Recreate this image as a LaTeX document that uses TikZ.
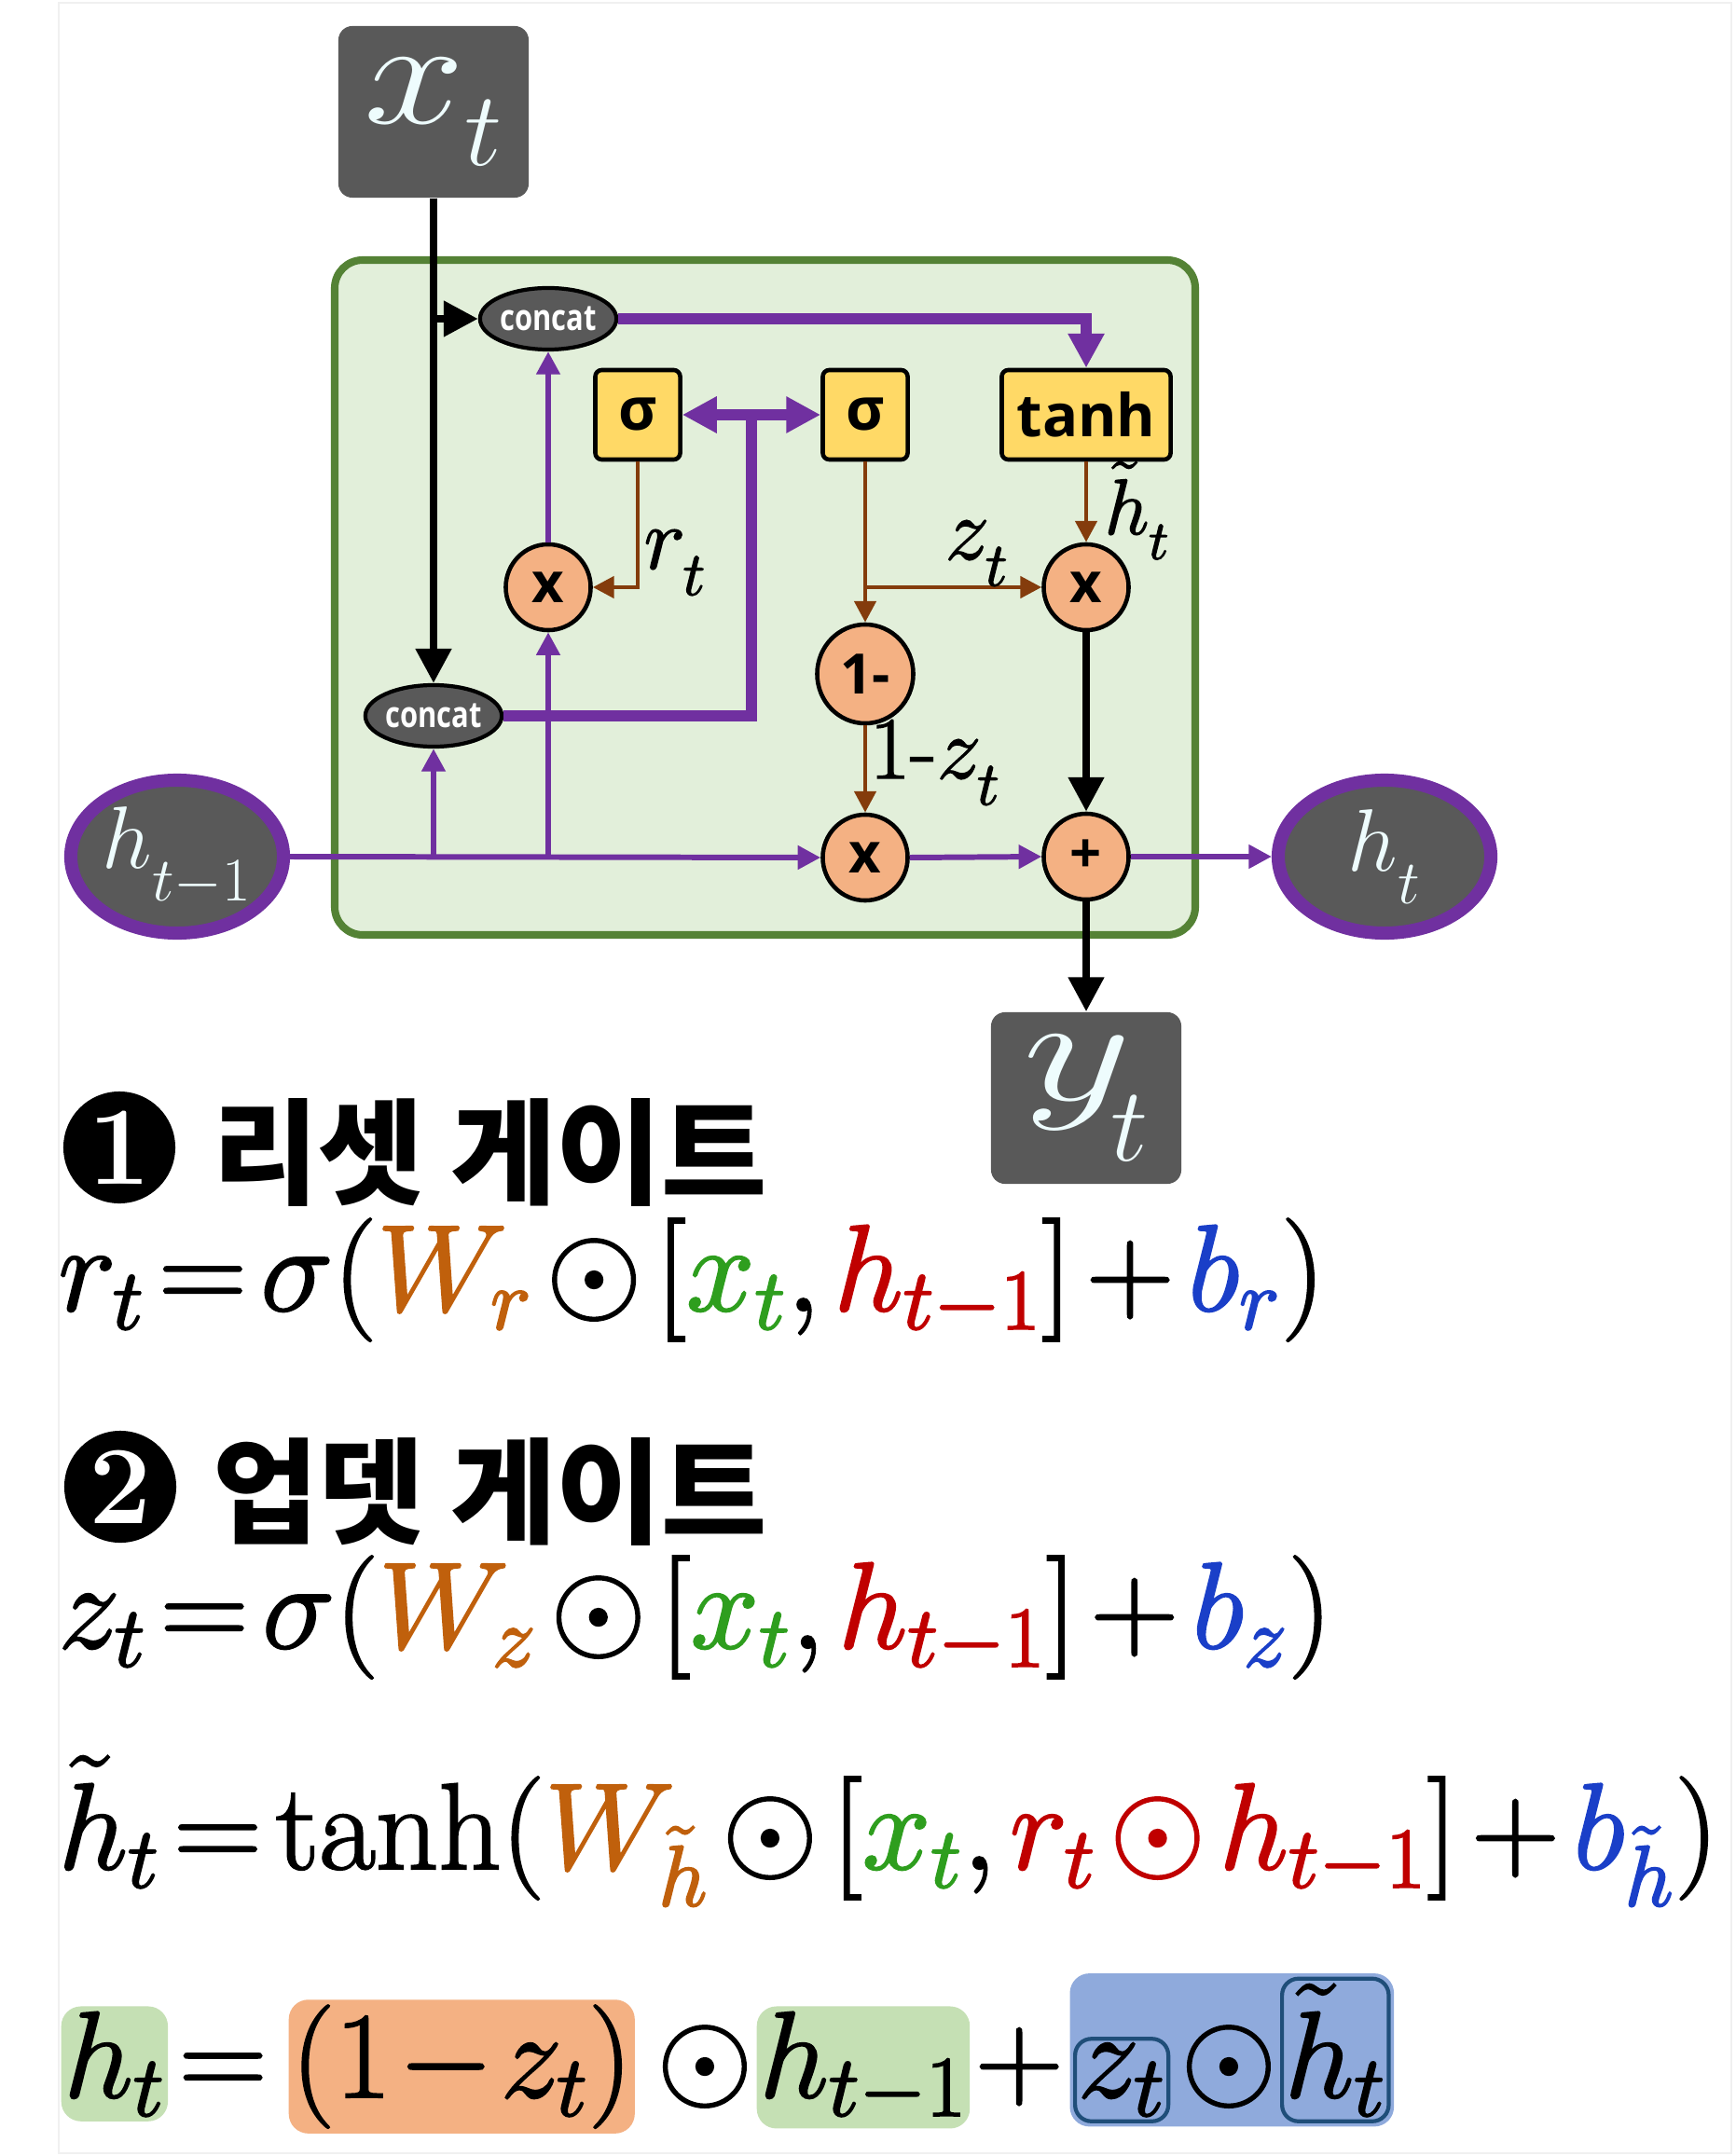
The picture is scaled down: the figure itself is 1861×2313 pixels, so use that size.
\RequirePackage{fix-cm}
\documentclass[tikz,border=0pt]{standalone}
\usepackage{fontspec}
\usetikzlibrary{arrows.meta,shapes.geometric,fit,backgrounds,calc}
\newfontfamily\osans{Open Sans}
\newfontfamily\kor{Noto Sans CJK KR}
\definecolor{purp}{HTML}{7030A0}
\definecolor{brwn}{HTML}{843C0C}
\definecolor{gbord}{HTML}{548235}
\definecolor{gfill}{HTML}{E2EFDA}
\definecolor{ygold}{HTML}{FFD966}
\definecolor{ora}{HTML}{F4B183}
\definecolor{dgray}{HTML}{595959}
\definecolor{lwhite}{HTML}{EEFCFD}
\definecolor{grn4}{HTML}{C5E0B4}
\definecolor{blu4}{HTML}{8FAADC}
\definecolor{dblu}{HTML}{1F4E79}
\definecolor{wcol}{HTML}{C0600C}
\definecolor{xcol}{HTML}{2E9E1E}
\definecolor{hcol}{HTML}{C00000}
\definecolor{bcol}{HTML}{1A3FC8}
\newcommand\lowsub[2][4pt]{_{\raisebox{-#1}{$\scriptstyle #2$}}}
\newcommand\fb[2][0.6]{\special{pdf:literal direct 2 Tr #1 w}#2\special{pdf:literal direct 0 Tr 0.3985 w}}
\newcommand\eqsetup{\fontsize{37.5}{40}\selectfont\thickmuskip=2mu\medmuskip=2mu\thinmuskip=2mu}
\begin{document}
\begin{tikzpicture}[x=0.01cm,y=-0.01cm,
  dbox/.style={fill=dgray, rounded corners=0.15cm, minimum width=2.04cm, minimum height=1.84cm, text=lwhite, inner sep=0, font=\fontsize{46}{46}\selectfont},
  hell/.style={ellipse, draw=purp, line width=4pt, fill=dgray, minimum width=2.28cm, minimum height=1.64cm, inner sep=0, text=lwhite, font=\fontsize{27}{27}\selectfont},
  cc/.style={ellipse, draw=black, line width=1.2pt, fill=dgray, minimum width=1.27cm, minimum height=0.66cm, inner sep=0, text=white, font=\osans\bfseries\fontsize{11}{11}\selectfont},
  gate/.style={draw=black, line width=1.3pt, fill=ygold, rounded corners=2pt, minimum height=0.96cm, inner sep=0, font=\osans\bfseries\fontsize{18}{18}\selectfont},
  op/.style={ellipse, draw=black, line width=1.3pt, fill=ora, minimum width=0.91cm, minimum height=0.92cm, inner sep=0, font=\osans\bfseries\fontsize{17}{17}\selectfont},
  blk/.style={draw=black, line width=2.3pt, -{Triangle[length=10.5pt,width=10.5pt]}},
  pthick/.style={draw=purp, line width=3.4pt, -{Triangle[length=10.5pt,width=10.5pt]}},
  pthin/.style={draw=purp, line width=1.7pt, -{Triangle[length=7pt,width=7pt]}},
  brn/.style={draw=brwn, line width=1.4pt, -{Triangle[length=6.5pt,width=6.5pt]}},
  lab/.style={anchor=base west, inner sep=0, font=\fontsize{27}{27}\selectfont},
  head/.style={anchor=west, inner sep=0, font=\kor\bfseries\fontsize{35}{35}\selectfont},
  num/.style={circle, fill=black, minimum size=1.2cm, inner sep=0, text=white, font=\bfseries\fontsize{34}{34}\selectfont},
  eqn/.style={anchor=base west, inner sep=0, font=\eqsetup},
  e4/.style={anchor=base west, inner ysep=1.7pt, inner xsep=0.8pt, font=\eqsetup, rounded corners=6pt},
  e4b/.style={anchor=base west, inner ysep=1.7pt, inner xsep=0.8pt, font=\eqsetup, rounded corners=5pt, draw=dblu, line width=1.2pt}
]
\begin{scope}[on background layer]
\fill[white] (0,0) rectangle (1861,2313);
\end{scope}
\useasboundingbox (0,0) rectangle (1861,2313);
\draw[gray!12, line width=0.8pt] (63,3) rectangle (1857,2310);

% cell
\draw[gbord, fill=gfill, line width=2.3pt, rounded corners=0.3cm] (359,279) rectangle (1282,1003);

% nodes
\node[dbox] (xt) at (465,120) {$\scalebox{1.2}[1]{$x$}\lowsub[6pt]{t}$};
\node[dbox] (yt) at (1165,1178) {$\scalebox{1.4}[1]{$y$}\lowsub[8pt]{\mkern-3.5mu t}$};
\node[hell] (hp) at (190,919) {$h\lowsub[6pt]{t-1}$};
\node[hell] (ht) at (1485,919) {$h\lowsub[6pt]{t}$};
\node[cc] (tc) at (588,342) {\scalebox{0.8}[1]{concat}};
\node[cc] (bc) at (465,768) {\scalebox{0.8}[1]{concat}};
\node[gate, minimum width=0.91cm] (s1) at (684,445) {σ};
\node[gate, minimum width=0.91cm] (s2) at (928,445) {σ};
\node[gate, minimum width=1.81cm] (th) at (1165,445) {tanh};
\node[op] (m1) at (588,630) {x};
\node[op] (m2) at (1165,630) {x};
\node[op, minimum width=1.03cm, minimum height=1.06cm] (om) at (928,723) {1-};
\node[op] (m3) at (928,920) {x};
\node[op] (pl) at (1165,919) {+};

% connectors
\draw[blk] (xt.south) -- (bc.north);
\draw[blk] (xt.south |- tc.west) -- (tc.west);
\draw[pthick] (tc.east) -| (th.north);
\coordinate (sp) at ($(s1.east)!0.5!(s2.west)$);
\draw[purp, line width=3.4pt] (bc.east) -| (sp);
\draw[purp, line width=3.4pt, {Triangle[length=10.5pt,width=10.5pt]}-{Triangle[length=10.5pt,width=10.5pt]}] (s1.east) -- (s2.west);
\draw[brn] (s1.south) |- (m1.east);
\draw[pthin] (m1.north) -- (tc.south);
\draw[pthin] (m1.south |- hp.east) -- (m1.south);
\draw[pthin] (bc.south |- hp.east) -- (bc.south);
\draw[brn] (s2.south) -- (om.north);
\draw[brn] (s2.south |- m2.west) -- (m2.west);
\draw[brn] (th.south) -- (m2.north);
\draw[blk] (m2.south) -- (pl.north);
\draw[brn] (om.south) -- (m3.north);
\draw[pthin] (hp.east) -- (m3.west);
\draw[pthin] (m3.east) -- (pl.west);
\draw[pthin] (pl.east) -- (ht.west);
\draw[blk] (pl.south) -- (yt.north);

% labels
\node[lab] (lr) at (690,610) {\fb[0.4]{$r\lowsub{t}$}};
\node[lab] (lz) at (1013,600) {\fb[0.4]{$z\lowsub{t}$}};
\node[lab, font=\fontsize{24}{24}\selectfont] (lh) at (1184,573) {\fb[0.4]{$\tilde h\lowsub{t}$}};
\node[lab] (l1z) at (932,835) {\fb[0.4]{$1\mbox{-}z\lowsub{t}$}};

% headings
\node[num] (c1) at (128,1231) {1};
\node[head] (t1) at (228,1236) {리셋 게이트};
\node[num] (c2) at (129,1595) {2};
\node[head] (t2) at (228,1600) {업뎃 게이트};

% equations
\node[eqn] (eq1) at (62,1406) {\fb{$r_t=\sigma(\textcolor{wcol}{W_r}\odot[\textcolor{xcol}{x_t},\textcolor{hcol}{h_{t-1}}]+\textcolor{bcol}{b_r})$}};
\node[eqn] (eq2) at (62,1768) {\fb{$z_t=\sigma(\textcolor{wcol}{W_z}\odot[\textcolor{xcol}{x_t},\textcolor{hcol}{h_{t-1}}]+\textcolor{bcol}{b_z})$}};
\node[eqn] (eq3) at (62,2005) {\fb{$\tilde h_t=\tanh(\textcolor{wcol}{W_{\tilde h}}\odot[\textcolor{xcol}{x_t},\textcolor{hcol}{r_t\odot h_{t-1}}]+\textcolor{bcol}{b_{\tilde h}})$}};

\node[e4, fill=grn4] (a4) at (65,2250) {\fb{$h_t$}};
\node[eqn] (q4) at (191,2250) {\fb{$=$}};
\node[e4, fill=ora] (o4) at (309,2250) {\fb{$\medmuskip=1mu(1-z_t)$}};
\node[eqn] (d4) at (704,2250) {\fb{$\odot$}};
\node[e4, fill=grn4] (g4) at (811,2250) {\fb{$h_{t-1}$}};
\node[eqn] (p4) at (1045,2250) {\fb{$+$}};
\node[e4b] (z4) at (1151,2250) {\fb{$z_t$}};
\node[eqn] (d5) at (1266,2250) {\fb{$\odot$}};
\node[e4b] (h4) at (1373,2250) {\fb{$\tilde h_t$}};
\begin{scope}[on background layer]
\node[fit=(z4)(h4), fill=blu4, inner sep=1pt, rounded corners=6pt] (bl4) {};
\end{scope}
\end{tikzpicture}
\end{document}
